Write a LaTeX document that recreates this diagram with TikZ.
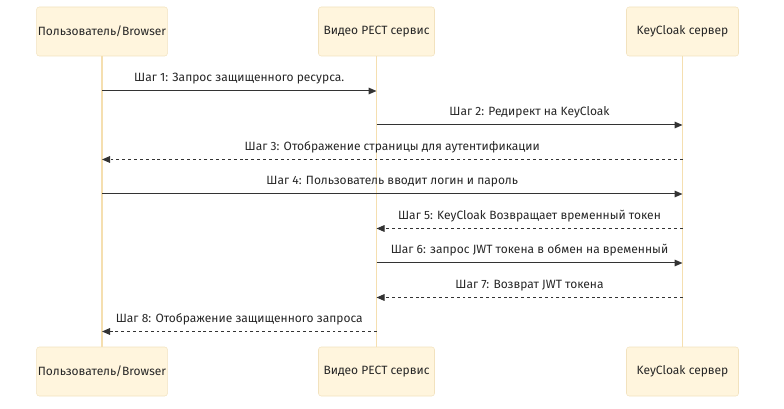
\documentclass[tikz,border=0pt]{standalone}
\usepackage{fontspec}
\setmainfont{Fira Sans}
\usepackage{tikz}
\usetikzlibrary{arrows.meta}
\definecolor{boxfill}{HTML}{FFF5DD}
\definecolor{boxline}{HTML}{F2E2BE}
\definecolor{lifeline}{HTML}{F5DFB0}
\definecolor{msgline}{HTML}{333333}

\begin{document}
\begin{tikzpicture}[x=0.75pt, y=-0.75pt,
    every node/.style={font=\fontsize{9}{11}\selectfont, inner sep=1pt}]

    \tikzstyle{actor}=[rectangle, rounded corners=2pt, draw=boxline, fill=boxfill, minimum height=36.75pt, text=black!85]
    \tikzstyle{life}=[lifeline, line width=0.9pt]
    \tikzstyle{msg}=[msgline, line width=0.75pt, -{Triangle[length=6pt, width=5pt]}]
    \tikzstyle{reply}=[msg, dash pattern=on 2.2pt off 2.2pt]
    \tikzstyle{lbl}=[midway, above=3.5pt, text=black!85]

    \useasboundingbox (0,0) rectangle (784,409);

    % participants
    \node[actor, minimum width=96.75pt] (ua) at (102,31.5) {Пользователь/Browser};
    \node[actor, minimum width=87pt] (va) at (376.5,31.5) {Видео РЕСТ сервис};
    \node[actor, minimum width=84pt] (ka) at (682.5,31.5) {KeyCloak сервер};

    \node[actor, minimum width=96.75pt] (ub) at (102,371.5) {Пользователь/Browser};
    \node[actor, minimum width=87pt] (vb) at (376.5,371.5) {Видео РЕСТ сервис};
    \node[actor, minimum width=84pt] (kb) at (682.5,371.5) {KeyCloak сервер};

    \draw[life] (ua)--(ub);
    \draw[life] (va)--(vb);
    \draw[life] (ka)--(kb);

    % messages
    \coordinate (m1) at (0,91);
    \coordinate (m2) at (0,125);
    \coordinate (m3) at (0,159.5);
    \coordinate (m4) at (0,194);
    \coordinate (m5) at (0,228.5);
    \coordinate (m6) at (0,263);
    \coordinate (m7) at (0,297.5);
    \coordinate (m8) at (0,331.5);

    \draw[msg] (ua |- m1) -- (va |- m1) node[lbl] {Шаг 1: Запрос защищенного ресурса.};
    \draw[msg] (va |- m2) -- (ka |- m2) node[lbl] {Шаг 2: Редирект на KeyCloak};
    \draw[reply] (ka |- m3) -- (ua |- m3) node[lbl] {Шаг 3: Отображение страницы для аутентификации};
    \draw[msg] (ua |- m4) -- (ka |- m4) node[lbl] {Шаг 4: Пользователь вводит логин и пароль};
    \draw[reply] (ka |- m5) -- (va |- m5) node[lbl] {Шаг 5: KeyCloak Возвращает временный токен};
    \draw[msg] (va |- m6) -- (ka |- m6) node[lbl] {Шаг 6: запрос JWT токена в обмен на временный};
    \draw[reply] (ka |- m7) -- (va |- m7) node[lbl] {Шаг 7: Возврат JWT токена};
    \draw[reply] (va |- m8) -- (ua |- m8) node[lbl] {Шаг 8: Отображение защищенного запроса};

\end{tikzpicture}
\end{document}
